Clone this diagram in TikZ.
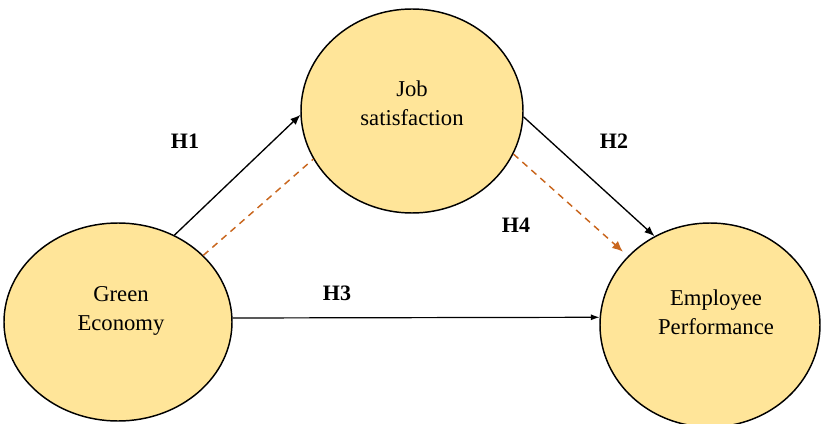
\documentclass[tikz,border=0pt]{standalone}
\usepackage{fontspec}
\setmainfont{Liberation Serif}
\usetikzlibrary{shapes,arrows.meta}
\definecolor{factorfill}{HTML}{FFE599}
\definecolor{mediorange}{HTML}{C9671F}

\begin{document}
\begin{tikzpicture}[x=0.75pt,y=-0.75pt]
	\useasboundingbox (0,0) rectangle (821,424);
	\tikzstyle{factor} = [ellipse,draw=black,line width=1.1pt,fill=factorfill,inner sep=0pt]
	\tikzstyle{factortext} = [align=center,inner sep=0pt,font=\fontsize{17}{22}\selectfont]
	\tikzstyle{hyp} = [inner sep=0pt,font=\fontsize{16.5}{20}\selectfont\bfseries]
	\tikzstyle{edge} = [-{Latex[length=7.5pt,width=6pt]},line width=1pt]
	\tikzstyle{medi} = [dash pattern=on 5pt off 4pt,line width=1.1pt,color=mediorange]
	% the three factors
	\node[factor,minimum width=166.5pt,minimum height=153pt] (js) at (412,111) {};
	\node[factor,minimum width=171pt,minimum height=148.5pt] (ge) at (118,322) {};
	\node[factor,minimum width=165pt,minimum height=153pt] (ep) at (710,325) {};
	\node[factortext] (jsT) at (412,103) {Job\\satisfaction};
	\node[factortext] (geT) at (121,311) {Green\\Economy};
	\node[factortext] (epT) at (716,312) {Employee\\Performance};
	% direct paths
	\draw[edge] (ge.57) -- (js.182);
	\draw[edge] (js.-3) -- (ep.122);
	\draw[-{Latex[length=6.5pt,width=4.5pt]},line width=0.9pt] (ge.2) -- (ep.176);
	% mediated path
	\draw[medi] (ge.38) -- (js.206);
	\draw[medi,-{Latex[length=8pt,width=7pt]},shorten >=5pt] (js.-23) -- (ep.140);
	% hypotheses
	\node[hyp] (h1) at (185,141) {H1};
	\node[hyp] (h2) at (614,141) {H2};
	\node[hyp] (h3) at (337,293) {H3};
	\node[hyp] (h4) at (516,225) {H4};
\end{tikzpicture}
\end{document}
